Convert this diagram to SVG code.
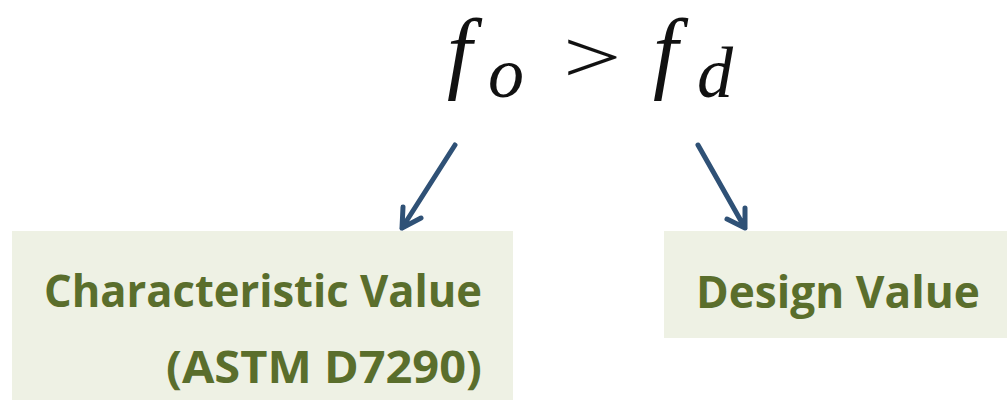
<svg xmlns="http://www.w3.org/2000/svg" width="1007" height="400" viewBox="0 0 1007 400">
<style>
.box{fill:#eef1e4}
.lbl{font-family:"Open Sans","Noto Sans",sans-serif;font-weight:bold;fill:#5a6e2c;font-size:45px}
.m{font-family:"Liberation Serif","DejaVu Serif",serif;font-style:italic;fill:#111}
.arr{stroke:#2f5176;stroke-width:5;fill:none;stroke-linecap:round;stroke-linejoin:round}
</style>
<g id="formula">
<text class="m" x="447" y="82" font-size="90">f</text>
<text class="m" x="488" y="97" font-size="72">o</text>
<text transform="translate(563,82) scale(1.4,1)" x="0" y="0" font-size="74" font-family="Liberation Serif,serif" fill="#111">&gt;</text>
<text class="m" x="653" y="82" font-size="90">f</text>
<text class="m" x="697" y="97" font-size="72">d</text>
</g>
<g id="characteristic">
<rect class="box" x="12" y="231" width="501" height="169"/>
<text class="lbl" x="482" y="307" text-anchor="end" textLength="438" lengthAdjust="spacingAndGlyphs">Characteristic Value</text>
<text class="lbl" x="482" y="383" text-anchor="end" textLength="316" lengthAdjust="spacingAndGlyphs">(ASTM D7290)</text>
</g>
<g id="design">
<rect class="box" x="664" y="231" width="343" height="107"/>
<text class="lbl" x="980" y="308" text-anchor="end" textLength="284" lengthAdjust="spacingAndGlyphs">Design Value</text>
</g>
<g id="connectors">
<path class="arr" d="M455,145 L402,228 M403,207 L402,228 L421,218"/>
<path class="arr" d="M698,145 L745,228 M745,208 L745,228 L727,219"/>
</g>
</svg>
